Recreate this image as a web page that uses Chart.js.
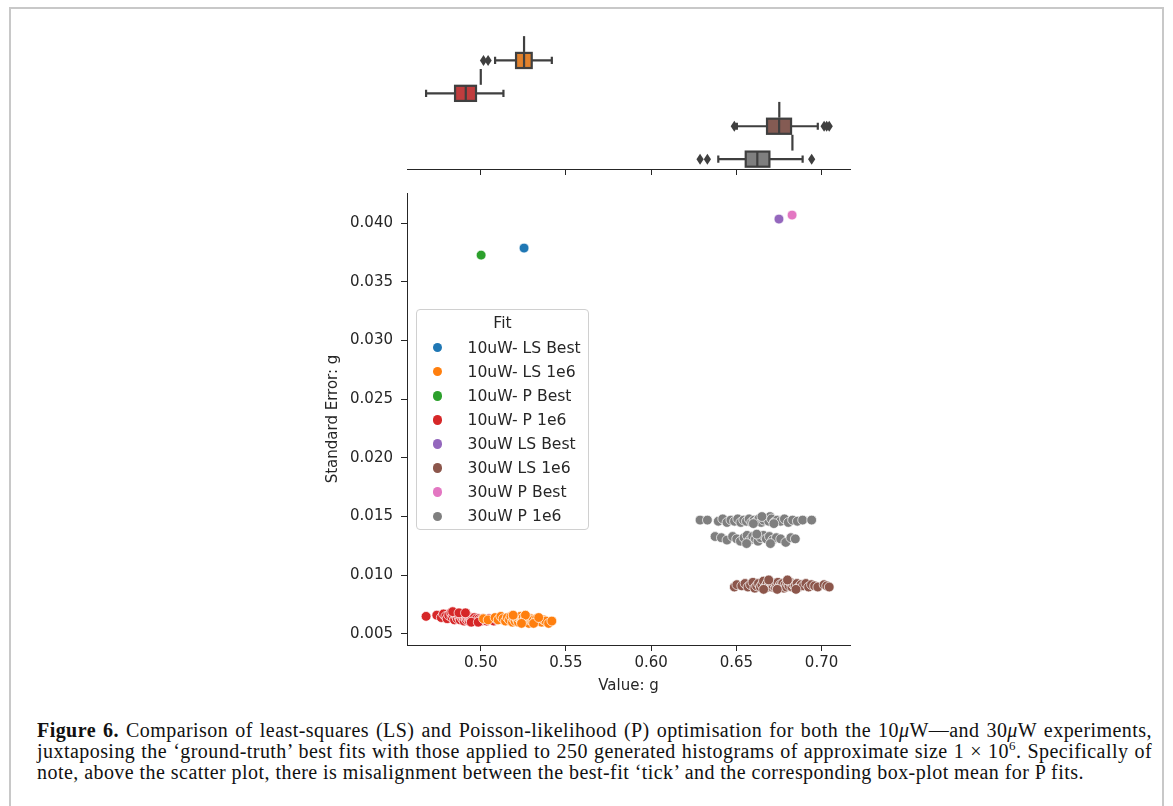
<!DOCTYPE html>
<html>
<head>
<meta charset="utf-8">
<script src="https://cdn.jsdelivr.net/npm/chart.js@4.4.1/dist/chart.umd.min.js"></script>
<style>
  html, body { margin: 0; padding: 0; background: #fff; }
  body { width: 1173px; height: 806px; position: relative; overflow: hidden; }
  #frame { position: absolute; left: 9px; top: 7px; width: 1155px; height: 820px;
           border: 2px solid #c8c8c8; box-sizing: border-box; }
  #topCanvas { position: absolute; left: 300px; top: 10px; }
  #mainCanvas { position: absolute; left: 300px; top: 180px; }
  #legend { position: absolute; left: 416px; top: 309px; width: 173px; height: 221px;
            box-sizing: border-box; border: 1px solid #d0d0d0; border-radius: 4px;
            background: rgba(255,255,255,0.8); font-family: 'DejaVu Sans', sans-serif;
            font-size: 15.6px; color: #262626; }
  #legend .title { height: 25.6px; line-height: 26px; text-align: center; }
  #legend .item { position: relative; height: 24.1px; line-height: 24.1px; }
  #legend .dot { position: absolute; left: 15.5px; top: 7.3px; width: 9.5px; height: 9.5px; border-radius: 50%; }
  #legend .lbl { position: absolute; left: 50.5px; }
  #caption { position: absolute; left: 37px; top: 720px; width: 1115px;
             font-family: 'Liberation Serif', serif; font-size: 20px; letter-spacing: 0.45px;
             line-height: 21px; color: #111; }
  #caption span { display: block; white-space: nowrap; }
  #caption span.j { text-align: justify; text-align-last: justify; }
</style>
</head>
<body>
<div id="frame"></div>
<canvas id="topCanvas" width="560" height="175"></canvas>
<canvas id="mainCanvas" width="560" height="520"></canvas>
<div id="legend"></div>
<div id="caption">
  <span class="j"><b>Figure 6.</b> Comparison of least-squares (LS) and Poisson-likelihood (P) optimisation for both the 10<i>μ</i>W—and 30<i>μ</i>W experiments,</span>
  <span class="j">juxtaposing the ‘ground-truth’ best fits with those applied to 250 generated histograms of approximate size 1 × 10<sup style="font-size:13px;line-height:0">6</sup>. Specifically of</span>
  <span>note, above the scatter plot, there is misalignment between the best-fit ‘tick’ and the corresponding box-plot mean for P fits.</span>
</div>
<script>
// series shown in the scatter + legend
const seriesLabels = ['10uW- LS Best', '10uW- LS 1e6', '10uW- P Best', '10uW- P 1e6',
                      '30uW LS Best', '30uW LS 1e6', '30uW P Best', '30uW P 1e6'];
const seriesColors = ['#1f77b4', '#ff7f0e', '#2ca02c', '#d62728',
                      '#9467bd', '#8c564b', '#e377c2', '#7f7f7f'];

const ls10Best = [[0.5254, 0.03787]];
const p10Best = [[0.5002, 0.03727]];
const ls30Best = [[0.6750, 0.04034]];
const p30Best = [[0.6827, 0.04068]];

const ls10Fits = [
  [0.5016, 0.0063], [0.5043, 0.0062], [0.5084, 0.0064], [0.5102, 0.0062], [0.5118, 0.0065],
  [0.5131, 0.0063], [0.5145, 0.0061], [0.5156, 0.0064], [0.5168, 0.0062], [0.5177, 0.0065],
  [0.5186, 0.0060], [0.5193, 0.0063], [0.5201, 0.0061], [0.5208, 0.0064], [0.5214, 0.0062],
  [0.5221, 0.0060], [0.5227, 0.0063], [0.5233, 0.0065], [0.5238, 0.0061], [0.5244, 0.0062],
  [0.5249, 0.0064], [0.5254, 0.0060], [0.5259, 0.0062], [0.5264, 0.0063], [0.5270, 0.0061],
  [0.5276, 0.0064], [0.5282, 0.0059], [0.5288, 0.0062], [0.5294, 0.0063], [0.5301, 0.0061],
  [0.5309, 0.0062], [0.5318, 0.0060], [0.5327, 0.0063], [0.5336, 0.0061], [0.5346, 0.0062],
  [0.5357, 0.0060], [0.5369, 0.0062], [0.5382, 0.0061], [0.5398, 0.0059], [0.5417, 0.0061],
  [0.5190, 0.0066], [0.5262, 0.0066], [0.5239, 0.0059], [0.5310, 0.0059], [0.5340, 0.0064]
];

const p10Fits = [
  [0.4679, 0.0065], [0.4742, 0.0066], [0.4768, 0.0064], [0.4781, 0.0067], [0.4795, 0.0065],
  [0.4803, 0.0063], [0.4812, 0.0066], [0.4825, 0.0068], [0.4831, 0.0064], [0.4838, 0.0066],
  [0.4846, 0.0062], [0.4851, 0.0067], [0.4857, 0.0065], [0.4862, 0.0063], [0.4868, 0.0066],
  [0.4873, 0.0064], [0.4879, 0.0062], [0.4884, 0.0065], [0.4888, 0.0067], [0.4893, 0.0063],
  [0.4897, 0.0065], [0.4902, 0.0061], [0.4906, 0.0064], [0.4911, 0.0066], [0.4915, 0.0062],
  [0.4919, 0.0064], [0.4923, 0.0063], [0.4928, 0.0065], [0.4932, 0.0061], [0.4937, 0.0063],
  [0.4941, 0.0064], [0.4946, 0.0062], [0.4952, 0.0063], [0.4958, 0.0061], [0.4963, 0.0064],
  [0.4969, 0.0062], [0.4975, 0.0063], [0.4982, 0.0061], [0.4989, 0.0063], [0.4996, 0.0062],
  [0.5004, 0.0061], [0.5012, 0.0063], [0.5023, 0.0062], [0.5035, 0.0061], [0.5048, 0.0063],
  [0.5061, 0.0062], [0.5077, 0.0061], [0.5096, 0.0062], [0.5112, 0.0063], [0.5133, 0.0062],
  [0.4835, 0.0069], [0.4872, 0.0068], [0.4910, 0.0068], [0.4944, 0.0060], [0.4985, 0.0060]
];

const ls30Fits = [
  [0.6488, 0.0090], [0.6503, 0.0092], [0.6532, 0.0091], [0.6551, 0.0093], [0.6568, 0.0090],
  [0.6583, 0.0092], [0.6597, 0.0094], [0.6608, 0.0089], [0.6619, 0.0091], [0.6630, 0.0093],
  [0.6641, 0.0090], [0.6650, 0.0092], [0.6659, 0.0095], [0.6667, 0.0089], [0.6674, 0.0091],
  [0.6681, 0.0093], [0.6688, 0.0090], [0.6695, 0.0092], [0.6702, 0.0094], [0.6709, 0.0090],
  [0.6716, 0.0091], [0.6723, 0.0093], [0.6730, 0.0089], [0.6737, 0.0092], [0.6744, 0.0094],
  [0.6751, 0.0090], [0.6758, 0.0092], [0.6765, 0.0091], [0.6772, 0.0093], [0.6779, 0.0089],
  [0.6786, 0.0092], [0.6793, 0.0090], [0.6801, 0.0093], [0.6809, 0.0091], [0.6817, 0.0094],
  [0.6826, 0.0090], [0.6835, 0.0092], [0.6845, 0.0091], [0.6856, 0.0093], [0.6868, 0.0090],
  [0.6880, 0.0092], [0.6893, 0.0091], [0.6908, 0.0093], [0.6924, 0.0090], [0.6941, 0.0092],
  [0.6959, 0.0091], [0.6978, 0.0090], [0.7015, 0.0092], [0.7030, 0.0091], [0.7045, 0.0090],
  [0.6690, 0.0096], [0.6740, 0.0088], [0.6800, 0.0096], [0.6660, 0.0088], [0.6850, 0.0088]
];

const p30Fits = [
  // upper strip
  [0.6287, 0.0147], [0.6330, 0.0147], [0.6394, 0.0146], [0.6420, 0.0148], [0.6445, 0.0145],
  [0.6468, 0.0147], [0.6489, 0.0146], [0.6508, 0.0148], [0.6526, 0.0145], [0.6543, 0.0147],
  [0.6559, 0.0146], [0.6575, 0.0148], [0.6590, 0.0145], [0.6604, 0.0147], [0.6618, 0.0146],
  [0.6632, 0.0148], [0.6646, 0.0145], [0.6660, 0.0147], [0.6698, 0.0150], [0.6690, 0.0146],
  [0.6706, 0.0148], [0.6722, 0.0145], [0.6740, 0.0147], [0.6760, 0.0146], [0.6782, 0.0148],
  [0.6805, 0.0145], [0.6830, 0.0147], [0.6858, 0.0146], [0.6889, 0.0147], [0.6942, 0.0147],
  [0.6650, 0.0150], [0.6720, 0.0144], [0.6600, 0.0144],
  // lower strip
  [0.6375, 0.0133], [0.6412, 0.0132], [0.6445, 0.0130], [0.6478, 0.0133], [0.6502, 0.0131],
  [0.6524, 0.0129], [0.6545, 0.0132], [0.6563, 0.0134], [0.6580, 0.0130], [0.6596, 0.0133],
  [0.6612, 0.0131], [0.6627, 0.0129], [0.6643, 0.0132], [0.6659, 0.0134], [0.6676, 0.0131],
  [0.6694, 0.0133], [0.6713, 0.0130], [0.6735, 0.0132], [0.6760, 0.0131], [0.6790, 0.0128],
  [0.6820, 0.0132], [0.6846, 0.0131], [0.6620, 0.0135], [0.6700, 0.0127], [0.6560, 0.0127]
];

const seriesPoints = [ls10Best, ls10Fits, p10Best, p10Fits, ls30Best, ls30Fits, p30Best, p30Fits];

// box-plot panel (rows top to bottom)
const boxQ1 = [0.5207, 0.4849, 0.6680, 0.6555];
const boxMedian = [0.5254, 0.4912, 0.6751, 0.6623];
const boxQ3 = [0.5299, 0.4972, 0.6821, 0.6694];
const whiskerLow = [0.5084, 0.4679, 0.6503, 0.6394];
const whiskerHigh = [0.5417, 0.5133, 0.6978, 0.6889];
const fliers = [[0.5016, 0.5043], [], [0.6488, 0.7015, 0.7030, 0.7045], [0.6287, 0.6330, 0.6942]];
const bestFitTicks = [0.5254, 0.5000, 0.6752, 0.6829];
const boxColors = ['#e1812c', '#c03d3e', '#845b53', '#7f7f7f'];

// axes
const xTicks = [0.50, 0.55, 0.60, 0.65, 0.70];
const yTicks = [0.005, 0.010, 0.015, 0.020, 0.025, 0.030, 0.035, 0.040];
const xMin = 0.4567, xMax = 0.7167;
const yMin = 0.00406, yMax = 0.04256;

Chart.defaults.font.family = "'DejaVu Sans', sans-serif";
Chart.defaults.font.size = 15;
Chart.defaults.color = '#262626';

const INK = '#3f3f3f';
const AXIS = '#262626';

function xAxis(extra) {
  return Object.assign({
    type: 'linear', min: xMin, max: xMax,
    afterBuildTicks: s => { s.ticks = xTicks.map(v => ({ value: v })); },
    grid: { display: true, drawOnChartArea: false, drawTicks: true, tickLength: 6, color: AXIS, lineWidth: 1 },
    border: { display: true, color: AXIS, width: 1 },
    ticks: { padding: 3, callback: v => v.toFixed(2) }
  }, extra);
}

const boxPlugin = {
  id: 'boxes',
  afterDatasetsDraw(chart) {
    const { ctx, scales: { x, y } } = chart;
    const boxHalf = 0.23, capHalf = 0.11, tickHalf = 0.24;
    ctx.save();
    ctx.strokeStyle = INK;
    ctx.lineWidth = 2.2;
    boxMedian.forEach((med, i) => {
      const yc = y.getPixelForValue(i);
      const bh = y.getPixelForValue(i + boxHalf) - yc;
      const ch = y.getPixelForValue(i + capHalf) - yc;
      const px = v => x.getPixelForValue(v);
      // whiskers and caps
      ctx.beginPath();
      ctx.moveTo(px(whiskerLow[i]), yc); ctx.lineTo(px(boxQ1[i]), yc);
      ctx.moveTo(px(boxQ3[i]), yc); ctx.lineTo(px(whiskerHigh[i]), yc);
      ctx.moveTo(px(whiskerLow[i]), yc - ch); ctx.lineTo(px(whiskerLow[i]), yc + ch);
      ctx.moveTo(px(whiskerHigh[i]), yc - ch); ctx.lineTo(px(whiskerHigh[i]), yc + ch);
      ctx.stroke();
      // box
      ctx.fillStyle = boxColors[i];
      ctx.fillRect(px(boxQ1[i]), yc - bh, px(boxQ3[i]) - px(boxQ1[i]), 2 * bh);
      ctx.strokeRect(px(boxQ1[i]), yc - bh, px(boxQ3[i]) - px(boxQ1[i]), 2 * bh);
      // median
      ctx.beginPath();
      ctx.moveTo(px(med), yc - bh); ctx.lineTo(px(med), yc + bh);
      ctx.stroke();
      // fliers (thin diamonds)
      ctx.fillStyle = INK;
      fliers[i].forEach(v => {
        const fx = px(v);
        ctx.beginPath();
        ctx.moveTo(fx, yc - 5.5); ctx.lineTo(fx + 3.6, yc);
        ctx.lineTo(fx, yc + 5.5); ctx.lineTo(fx - 3.6, yc);
        ctx.closePath();
        ctx.fill();
      });
      // best-fit tick
      const ty = y.getPixelForValue(i - 0.5);
      const th = y.getPixelForValue(i - 0.5 + tickHalf) - ty;
      ctx.beginPath();
      ctx.moveTo(px(bestFitTicks[i]), ty - th); ctx.lineTo(px(bestFitTicks[i]), ty + th);
      ctx.stroke();
    });
    ctx.restore();
  }
};

new Chart(document.getElementById('topCanvas'), {
  type: 'scatter',
  data: { datasets: [{ data: [] }] },
  options: {
    responsive: false, animation: false, devicePixelRatio: 1,
    layout: { padding: { left: 107, right: 10, top: 11, bottom: 0 } },
    plugins: { legend: { display: false }, tooltip: { enabled: false } },
    scales: {
      x: xAxis({ ticks: { display: false }, afterFit: s => { s.height = 16; } }),
      y: { type: 'linear', display: false, min: -1.2, max: 3.3, reverse: true }
    }
  },
  plugins: [boxPlugin]
});

const mainChart = new Chart(document.getElementById('mainCanvas'), {
  type: 'scatter',
  data: {
    datasets: seriesLabels.map((label, i) => ({
      label,
      data: seriesPoints[i].map(([x, y]) => ({ x, y })),
      backgroundColor: seriesColors[i],
      borderColor: '#ffffff',
      borderWidth: 0.7,
      pointRadius: 4.9,
      pointHoverRadius: 4.9
    }))
  },
  options: {
    responsive: false, animation: false, devicePixelRatio: 1,
    layout: { padding: { left: 0, right: 10, top: 13, bottom: 0 } },
    plugins: { legend: { display: false }, tooltip: { enabled: false } },
    scales: {
      x: xAxis({
        afterFit: s => { s.height = 55; },
        title: { display: true, text: 'Value: g', padding: { top: 0, bottom: 5 } }
      }),
      y: {
        type: 'linear', min: yMin, max: yMax,
        afterBuildTicks: s => { s.ticks = yTicks.map(v => ({ value: v })); },
        afterFit: s => { s.width = 107; s.paddingTop = 0; s.paddingBottom = 0; },
        grid: { display: true, drawOnChartArea: false, drawTicks: true, tickLength: 6, color: AXIS, lineWidth: 1 },
        border: { display: true, color: AXIS, width: 1 },
        ticks: { padding: 8, callback: v => v.toFixed(3) },
        title: { display: true, text: 'Standard Error: g', padding: { top: 24, bottom: 0 } }
      }
    }
  }
});

// legend built from the datasets
const legend = document.getElementById('legend');
legend.innerHTML = '<div class="title">Fit</div>' + mainChart.data.datasets.map(ds =>
  `<div class="item"><span class="dot" style="background:${ds.backgroundColor}"></span><span class="lbl">${ds.label}</span></div>`
).join('');
</script>
</body>
</html>
